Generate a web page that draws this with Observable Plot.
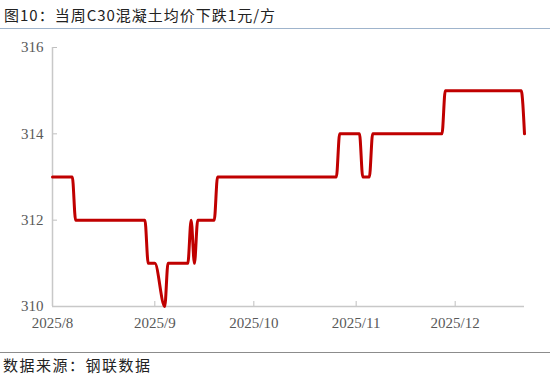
<!DOCTYPE html>
<html><head><meta charset="utf-8">
<script src="https://cdn.jsdelivr.net/npm/d3@7"></script>
<script src="https://cdn.jsdelivr.net/npm/@observablehq/plot@0.6"></script>
<style>
body{margin:0;background:#fff;width:550px;height:381px;overflow:hidden;}
#title{height:28px;line-height:30px;padding-left:4px;font-family:"Noto Sans CJK SC",sans-serif;font-size:15px;color:#222;border-bottom:1px solid #9fb4cc;letter-spacing:1px;}
#chart{height:323px;}
#foot{border-top:1px solid #8c8c8c;height:26px;line-height:24px;padding-left:3px;font-family:"Noto Sans CJK SC",sans-serif;font-size:15px;color:#222;letter-spacing:1.5px;}
</style></head>
<body>
<div id="title">图10：当周C30混凝土均价下跌1元/方</div>
<div id="chart"></div>
<div id="foot">数据来源：钢联数据</div>
<script>
const dates = ["2025-08-01","2025-08-07","2025-08-08","2025-08-29","2025-08-30","2025-09-01","2025-09-04","2025-09-05","2025-09-11","2025-09-12","2025-09-13","2025-09-14","2025-09-19","2025-09-20","2025-10-26","2025-10-27","2025-11-02","2025-11-03","2025-11-05","2025-11-06","2025-11-27","2025-11-28","2025-12-21","2025-12-22"];
const prices = [313,313,312,312,311,311,310,311,311,312,311,312,312,313,313,314,314,313,313,314,314,315,315,314];
const monthTicks = ["2025-08-01","2025-09-01","2025-10-01","2025-11-01","2025-12-01"];
const monthLabels = ["2025/8","2025/9","2025/10","2025/11","2025/12"];
const yTicks = [310,312,314,316];

const parse = d3.utcParse("%Y-%m-%d");
const data = dates.map((d,i)=>({date:parse(d), price:prices[i]}));
const mt = monthTicks.map(parse);
const labelOf = new Map(mt.map((d,i)=>[+d, monthLabels[i]]));

const chart = Plot.plot({
  width: 550, height: 323,
  marginTop: 18, marginBottom: 46, marginLeft: 52, marginRight: 26,
  style: {fontFamily: "'Liberation Serif', serif", fontSize: "15px", color: "#595959", background: "#fff"},
  x: {type: "utc", domain: [parse("2025-08-01"), parse("2025-12-22")]},
  y: {domain: [310, 316]},
  marks: [
    Plot.axisX({ticks: mt, tickSize: -5, stroke: "#bfbfbf", tickPadding: 16, tickFormat: d => labelOf.get(+d), fontSize: 15, fill: "#595959", label: null}),
    Plot.axisY({ticks: yTicks, tickSize: -5, stroke: "#bfbfbf", tickPadding: 14, tickFormat: d3.format("d"), fontSize: 15, fill: "#595959", label: null}),
    Plot.ruleY([310], {stroke: "#c8c8c8", strokeWidth: 1.5}),
    Plot.ruleX([parse("2025-08-01")], {stroke: "#c8c8c8", strokeWidth: 1.5}),
    Plot.line(data, {x: "date", y: "price", stroke: "#c00000", strokeWidth: 3, curve: "monotone-x"})
  ]
});
document.getElementById("chart").appendChild(chart);
</script>
</body></html>
